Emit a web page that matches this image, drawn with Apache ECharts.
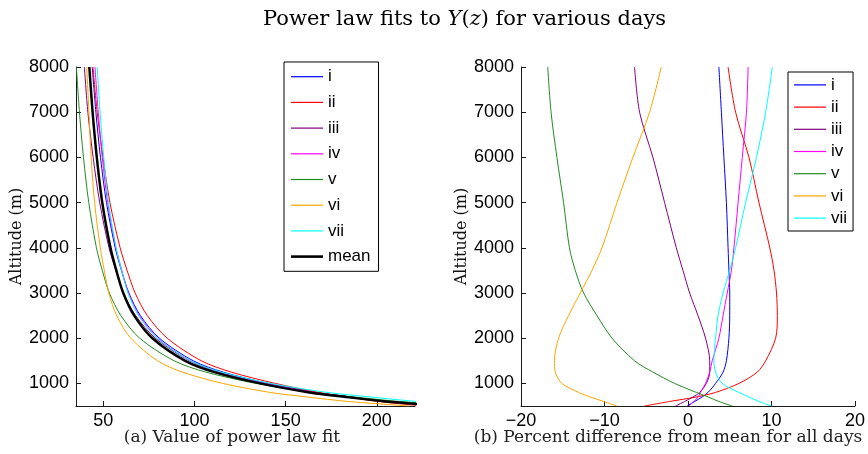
<!DOCTYPE html>
<html>
<head>
<meta charset="utf-8">
<script src="https://cdn.jsdelivr.net/npm/echarts@6/dist/echarts.min.js"></script>
<style>html,body{margin:0;padding:0;background:#fff}#c{width:868px;height:454px}</style>
</head>
<body>
<div id="c"></div>
<script>
// ---------- data ----------
const altitudes = [500, 600, 700, 800, 1000, 1250, 1500, 2000, 2500, 3000, 3500, 4000, 5000, 6000, 7000, 8000];
const dayNames = ['i', 'ii', 'iii', 'iv', 'v', 'vi', 'vii'];
const dayColors = ['#0000ff', '#ff0000', '#800080', '#ff00ff', '#228b22', '#ffa500', '#00ffff'];

// (a) value of power law fit, per day, at each altitude
const fitI   = [237.8, 206.6, 186.1, 166.9, 140.5, 115.7, 99.4, 80.8, 70.4, 64.1, 60.0, 56.6, 51.8, 48.5, 46.0, 44.0];
const fitII  = [225.6, 200.5, 184.8, 168.4, 144.3, 120.2, 103.8, 85.1, 74.2, 67.5, 63.1, 59.3, 53.7, 49.9, 46.7, 44.4];
const fitIII = [234.4, 204.2, 184.1, 165.3, 139.0, 113.9, 97.5, 78.6, 67.8, 61.1, 56.9, 53.2, 48.1, 44.5, 41.6, 39.7];
const fitIV  = [238.2, 206.4, 185.2, 165.4, 138.9, 113.9, 97.8, 79.8, 69.8, 63.9, 60.2, 57.0, 52.5, 49.5, 47.3, 45.5];
const fitV   = [250.6, 212.6, 187.4, 164.6, 133.8, 106.3, 88.9, 70.0, 59.7, 53.4, 49.5, 46.3, 42.1, 39.2, 37.0, 35.3];
const fitVI  = [217.8, 184.3, 161.6, 141.6, 115.5, 93.4, 79.8, 65.1, 57.4, 53.1, 50.6, 48.4, 45.3, 43.4, 42.2, 41.0];
const fitVII = [261.8, 222.4, 196.4, 172.9, 141.6, 114.7, 97.9, 79.5, 69.4, 63.6, 60.1, 57.1, 52.9, 50.3, 48.3, 46.7];
const fitMean = [238, 205, 183, 163, 136, 111, 95, 77, 67, 61, 57.2, 54, 49.5, 46.5, 44.2, 42.4];

// (b) percent difference from mean, per day, at each altitude
const pctI   = [-0.1, 0.8, 1.7, 2.4, 3.3, 4.2, 4.6, 4.9, 5.0, 5.0, 4.9, 4.8, 4.6, 4.3, 4.0, 3.7];
const pctII  = [-5.2, -2.2, 1.0, 3.3, 6.1, 8.3, 9.3, 10.5, 10.7, 10.6, 10.3, 9.8, 8.5, 7.3, 5.7, 4.8];
const pctIII = [-1.5, -0.4, 0.6, 1.4, 2.2, 2.6, 2.6, 2.1, 1.2, 0.2, -0.6, -1.4, -2.8, -4.2, -5.8, -6.4];
const pctIV  = [0.1, 0.7, 1.2, 1.5, 2.1, 2.6, 2.9, 3.7, 4.2, 4.7, 5.2, 5.5, 6.0, 6.5, 7.0, 7.2];
const pctV   = [5.3, 3.7, 2.4, 1.0, -1.6, -4.2, -6.4, -9.1, -10.9, -12.5, -13.5, -14.2, -14.9, -15.7, -16.4, -16.8];
const pctVI  = [-8.5, -10.1, -11.7, -13.1, -15.1, -15.9, -16.0, -15.5, -14.3, -12.9, -11.5, -10.3, -8.5, -6.6, -4.6, -3.2];
const pctVII = [10.0, 8.5, 7.3, 6.1, 4.1, 3.3, 3.1, 3.3, 3.6, 4.2, 5.0, 5.7, 6.9, 8.2, 9.3, 10.1];

const yTicks = [1000, 2000, 3000, 4000, 5000, 6000, 7000, 8000];
const xTicksLeft = [50, 100, 150, 200];
const xTicksRight = [-20, -10, 0, 10, 20];

const captionA = '(a) Value of power law fit';
const captionB = '(b) Percent difference from mean for all days';
const yName = 'Altitude (m)';

// ---------- chart ----------
const fitSets = [fitI, fitII, fitIII, fitIV, fitV, fitVI, fitVII];
const pctSets = [pctI, pctII, pctIII, pctIV, pctV, pctVI, pctVII];
const pairs = (vals) => vals.map((v, k) => [v, altitudes[k]]);

const axisColor = '#1a1a1a';
const labelFont = { fontFamily: 'Liberation Sans', fontSize: 18, color: '#000' };
const plain = v => (v < 0 ? '\u2212' + Math.abs(v) : String(v));

function yAxisCfg(gridIndex) {
  return {
    type: 'value', gridIndex, min: 500, max: 8000,
    name: yName, nameLocation: 'middle', nameGap: 44,
    nameTextStyle: { fontFamily: 'DejaVu Serif', fontSize: 16, color: '#111' },
    axisLine: { show: true, onZero: false, lineStyle: { color: axisColor, width: 1 } },
    axisTick: { show: true, inside: true, length: 5, customValues: yTicks, lineStyle: { color: axisColor } },
    axisLabel: Object.assign({ customValues: yTicks, margin: 7, formatter: plain }, labelFont),
    splitLine: { show: false }
  };
}

const series = [];
dayNames.forEach((n, k) => {
  series.push({
    name: n, type: 'line', xAxisIndex: 0, yAxisIndex: 0, data: pairs(fitSets[k]),
    symbol: 'none', smooth: 0.3, clip: true, color: dayColors[k],
    lineStyle: { width: 1, color: dayColors[k] }
  });
});
series.push({
  name: 'mean', type: 'line', xAxisIndex: 0, yAxisIndex: 0, data: pairs(fitMean),
  symbol: 'none', smooth: 0.3, clip: true, color: '#000', z: 5,
  lineStyle: { width: 2.5, color: '#000' }
});
dayNames.forEach((n, k) => {
  series.push({
    name: n, type: 'line', xAxisIndex: 1, yAxisIndex: 1, data: pairs(pctSets[k]),
    symbol: 'none', smooth: 0.3, clip: true, color: dayColors[k],
    lineStyle: { width: 1, color: dayColors[k] }
  });
});

const thin = 'path://M0 0H32V1.2H0Z';
const thick = 'path://M0 0H32V2.6H0Z';
const legendText = { fontFamily: 'Liberation Sans', fontSize: 17, color: '#000', lineHeight: 18 };

const option = {
  animation: false,
  backgroundColor: '#fff',
  title: {
    text: '{n|Power law fits to }{i|Y}{n|(}{i|z}{n|) for various days}',
    left: 258, top: 4,
    textStyle: {
      fontWeight: 'normal',
      rich: {
        n: { fontFamily: 'DejaVu Serif', fontSize: 21, fontWeight: 'normal', color: '#000' },
        i: { fontFamily: 'DejaVu Serif', fontSize: 21, fontWeight: 'normal', fontStyle: 'italic', color: '#000' }
      }
    }
  },
  grid: [
    { left: 76, top: 67, width: 339, height: 339 },
    { left: 521, top: 67, width: 337, height: 339 }
  ],
  xAxis: [
    {
      type: 'value', gridIndex: 0, min: 35.1, max: 220.9,
      axisLine: { show: true, onZero: false, lineStyle: { color: axisColor, width: 1 } },
      axisTick: { show: true, inside: true, length: 5, customValues: xTicksLeft, lineStyle: { color: axisColor } },
      axisLabel: Object.assign({ customValues: xTicksLeft, margin: 6, formatter: plain }, labelFont),
      splitLine: { show: false }
    },
    {
      type: 'value', gridIndex: 1, min: -20, max: 20, interval: 10,
      axisLine: { show: true, onZero: false, lineStyle: { color: axisColor, width: 1 } },
      axisTick: { show: true, inside: true, length: 5, customValues: xTicksRight, lineStyle: { color: axisColor } },
      axisLabel: Object.assign({ customValues: xTicksRight, margin: 6, formatter: plain }, labelFont),
      splitLine: { show: false }
    }
  ],
  yAxis: [yAxisCfg(0), yAxisCfg(1)],
  legend: [
    {
      orient: 'vertical', left: 284, top: 62,
      padding: [5.7, 8, 5.7, 7], itemGap: 7.7, itemWidth: 32, itemHeight: 18,
      borderColor: '#000', borderWidth: 1, backgroundColor: '#fff',
      textStyle: legendText, selectedMode: false,
      data: dayNames.map(n => ({ name: n, icon: thin })).concat([{ name: 'mean', icon: thick }])
    },
    {
      orient: 'vertical', left: 788, top: 72,
      padding: [3.9, 6, 3.9, 6], itemGap: 4.2, itemWidth: 32, itemHeight: 18,
      borderColor: '#000', borderWidth: 1, backgroundColor: '#fff',
      textStyle: legendText, selectedMode: false,
      data: dayNames.map(n => ({ name: n, icon: thin }))
    }
  ],
  graphic: [
    { type: 'text', x: 232, y: 438, style: { text: captionA, font: '17px "DejaVu Serif"', fill: '#222', textAlign: 'center', textVerticalAlign: 'middle' } },
    { type: 'text', x: 668, y: 438, style: { text: captionB, font: '17px "DejaVu Serif"', fill: '#222', textAlign: 'center', textVerticalAlign: 'middle' } }
  ],
  series
};

const chart = echarts.init(document.getElementById('c'), null, { renderer: 'canvas' });
chart.setOption(option);
</script>
</body>
</html>
